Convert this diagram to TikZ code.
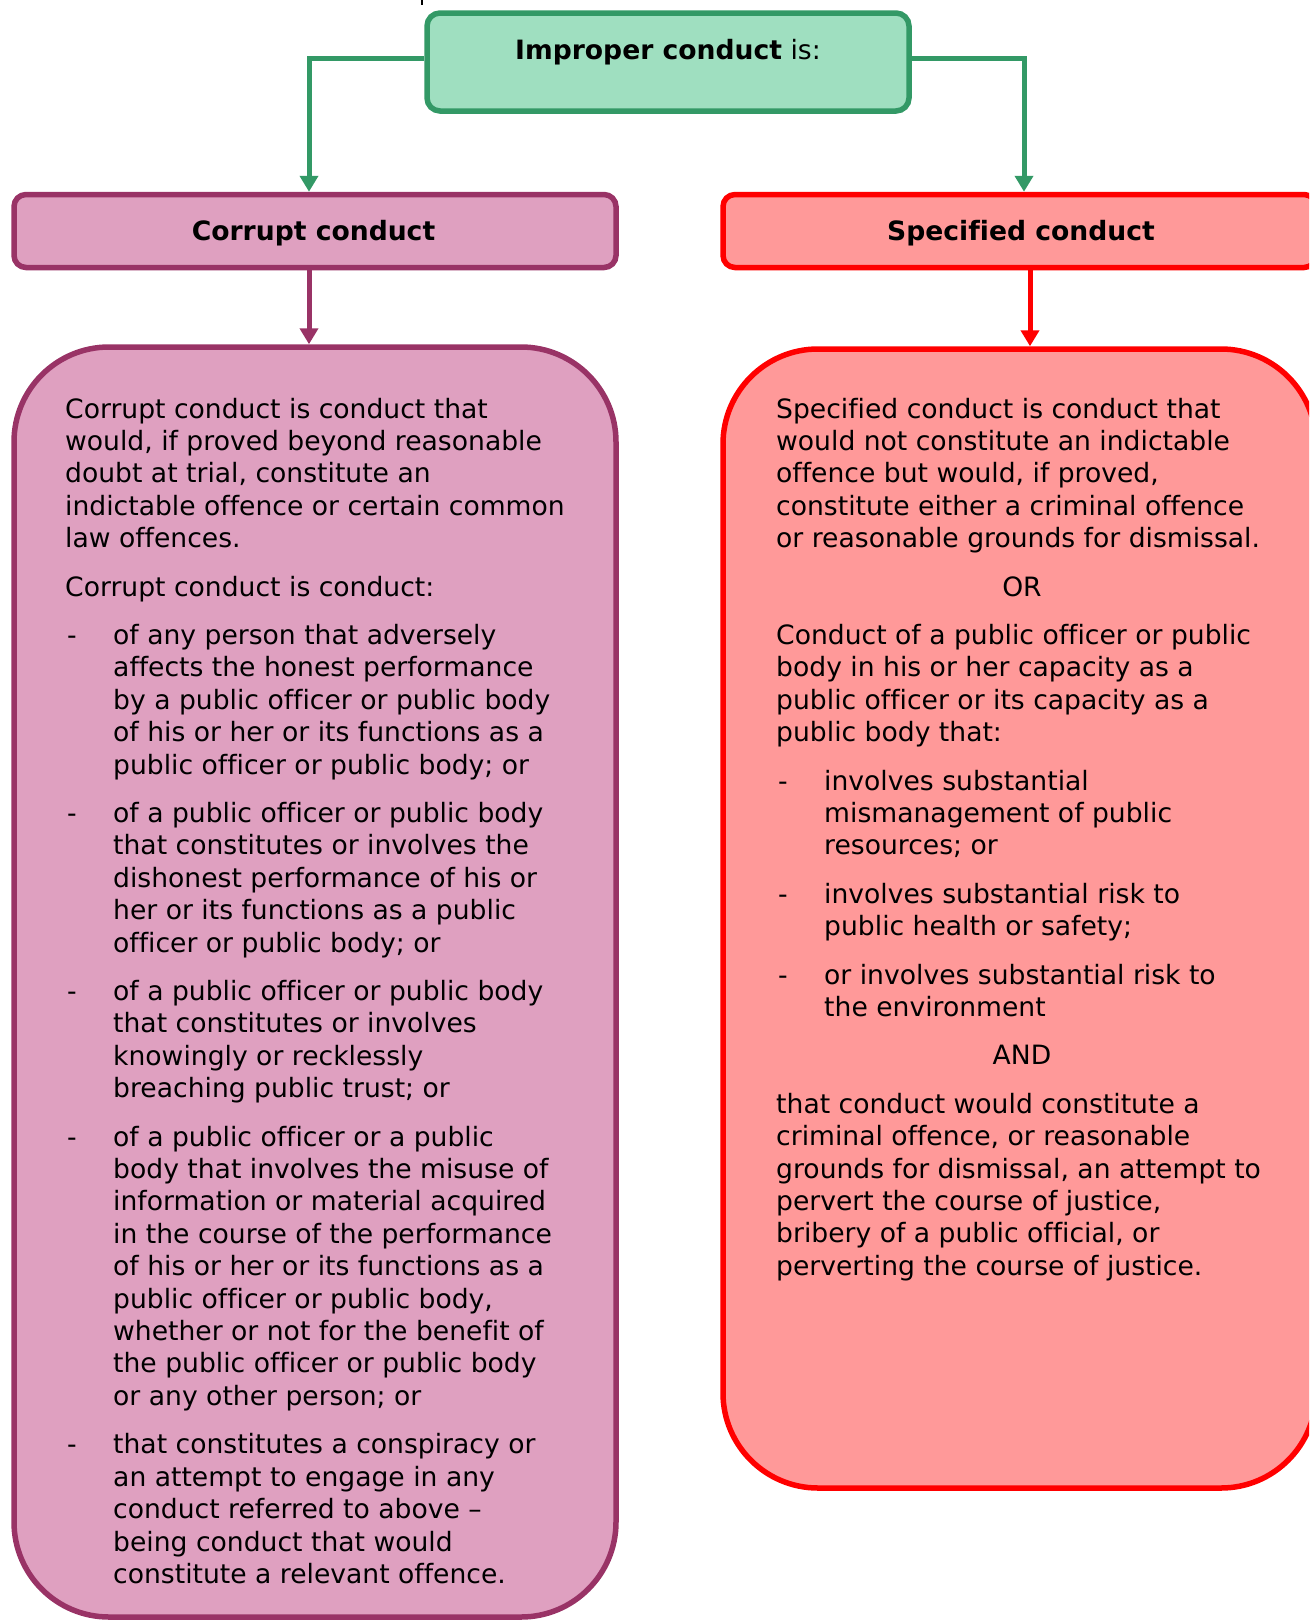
\documentclass[tikz,border=0pt]{standalone}
\usepackage{fontspec}
\setmainfont{DejaVu Sans}[Ligatures={TeX,NoCommon}]
\usetikzlibrary{arrows.meta}
\definecolor{gstroke}{HTML}{339966}
\definecolor{gfill}{HTML}{9FDFC0}
\definecolor{pstroke}{HTML}{993366}
\definecolor{pfill}{HTML}{DFA0C0}
\definecolor{rstroke}{HTML}{FF0000}
\definecolor{rfill}{HTML}{FF9999}
\newcommand{\bodyfont}{\fontsize{26.6pt}{32.4pt}\selectfont}
\begin{document}
\begin{tikzpicture}[x=1pt,y=-1pt,
  box/.style={draw, line width=5.5pt, inner sep=0pt},
  gbox/.style={box, draw=gstroke, fill=gfill, rounded corners=13pt},
  pbox/.style={box, draw=pstroke, fill=pfill},
  rbox/.style={box, draw=rstroke, fill=rfill},
  head/.style={anchor=base, inner sep=0pt, font=\bodyfont},
  para/.style={anchor=north west, inner sep=0pt, align=left, font=\bodyfont},
  bul/.style={anchor=base west, inner sep=0pt, font=\bodyfont},
  conn/.style={line width=5pt, -{Triangle[width=18pt,length=16pt]}},
]
\useasboundingbox (0,0) rectangle (1309,1622);
\clip (0,0) rectangle (1309,1622);

% stray fragment at top edge
\draw[line width=2pt] (422,0) -- (422,5);

% boxes
\node[gbox, minimum width=482pt, minimum height=98pt] (top) at (668,62) {};
\node[pbox, rounded corners=12pt, minimum width=602pt, minimum height=73pt] (corrupt) at (315,231) {};
\node[rbox, rounded corners=12pt, minimum width=593pt, minimum height=73pt] (spec) at (1019.5,231) {};
\node[pbox, rounded corners=95pt, minimum width=602pt, minimum height=1270pt] (pbig) at (315,982) {};
\node[rbox, rounded corners=95pt, minimum width=593pt, minimum height=1139pt] (rbig) at (1019.5,918.5) {};

% headings
\node[head] (toptxt) at (668,59.5) {\textbf{Improper conduct} is:};
\node[head] (corrupttxt) at (313.5,240) {\textbf{Corrupt conduct}};
\node[head] (spectxt) at (1021,240) {\textbf{Specified conduct}};

% connectors
\draw[conn, gstroke] (top.west |- 0,58) -| (309,0 |- corrupt.north);
\draw[conn, gstroke] (top.east |- 0,58) -| (1024,0 |- spec.north);
\draw[conn, pstroke] (309,0 |- corrupt.south) -- (309,0 |- pbig.north);
\draw[conn, rstroke] (1030,0 |- spec.south) -- (1030,0 |- rbig.north);

% left text
\node[para] (p1) at (65,395.3) {\strut Corrupt conduct is conduct that\\would, if proved beyond reasonable\\doubt at trial, constitute an\\indictable offence or certain common\\law offences.};
\node[para] (p2) at (65,573.3) {\strut Corrupt conduct is conduct:};
\node[bul] (d1) at (67,644.4) {-};
\node[para] (b1) at (113,621.7) {\strut of any person that adversely\\affects the honest performance\\by a public officer or public body\\of his or her or its functions as a\\public officer or public body; or};
\node[bul] (d2) at (67,822.4) {-};
\node[para] (b2) at (113,799.7) {\strut of a public officer or public body\\that constitutes or involves the\\dishonest performance of his or\\her or its functions as a public\\officer or public body; or};
\node[bul] (d3) at (67,1000.4) {-};
\node[para] (b3) at (113,977.7) {\strut of a public officer or public body\\that constitutes or involves\\knowingly or recklessly\\breaching public trust; or};
\node[bul] (d4) at (67,1146) {-};
\node[para] (b4) at (113,1123.3) {\strut of a public officer or a public\\body that involves the misuse of\\information or material acquired\\in the course of the performance\\of his or her or its functions as a\\public officer or public body,\\whether or not for the benefit of\\the public officer or public body\\or any other person; or};
\node[bul] (d5) at (67,1453.6) {-};
\node[para] (b5) at (113,1430.9) {\strut that constitutes a conspiracy or\\an attempt to engage in any\\conduct referred to above –\\being conduct that would\\constitute a relevant offence.};

% right text
\node[para] (r1) at (776,395.3) {\strut Specified conduct is conduct that\\would not constitute an indictable\\offence but would, if proved,\\constitute either a criminal offence\\or reasonable grounds for dismissal.};
\node[head] (or) at (1022,596) {OR};
\node[para] (r3) at (776,621.7) {\strut Conduct of a public officer or public\\body in his or her capacity as a\\public officer or its capacity as a\\public body that:};
\node[bul] (e1) at (778,790) {-};
\node[para] (rb1) at (824,767.3) {\strut involves substantial\\mismanagement of public\\resources; or};
\node[bul] (e2) at (778,903.2) {-};
\node[para] (rb2) at (824,880.5) {\strut involves substantial risk to\\public health or safety;};
\node[bul] (e3) at (778,984) {-};
\node[para] (rb3) at (824,961.3) {\strut or involves substantial risk to\\the environment};
\node[head] (and) at (1022,1064.8) {AND};
\node[para] (r5) at (776,1090.5) {\strut that conduct would constitute a\\criminal offence, or reasonable\\grounds for dismissal, an attempt to\\pervert the course of justice,\\bribery of a public official, or\\perverting the course of justice.};
\end{tikzpicture}
\end{document}
